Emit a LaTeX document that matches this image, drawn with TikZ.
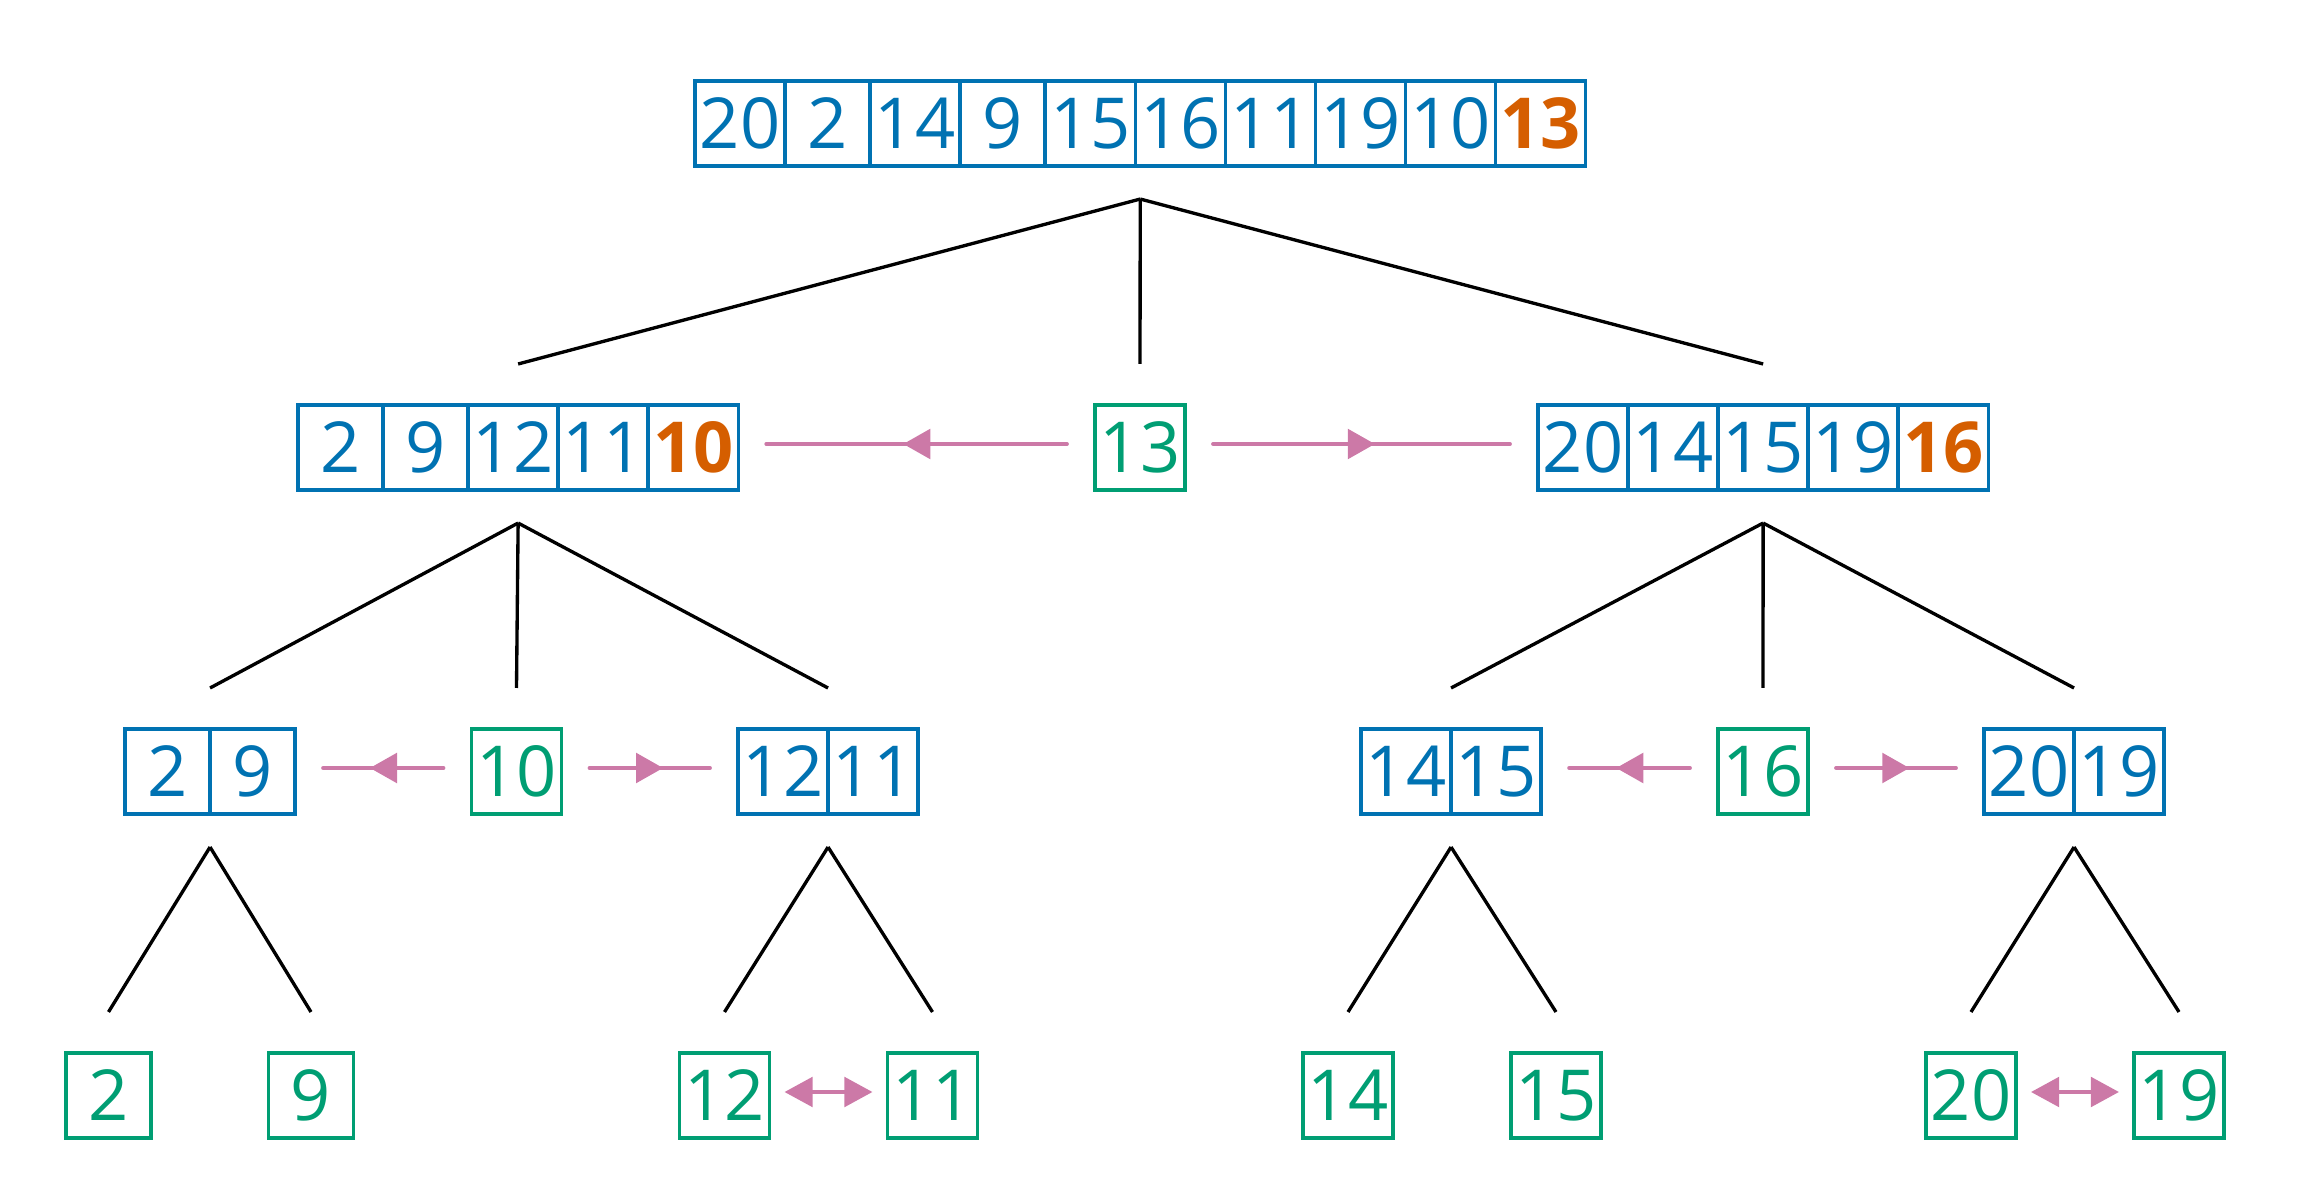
\documentclass[tikz,border=0pt]{standalone}
\usepackage{fontspec}
\setmainfont{Open Sans}
\usetikzlibrary{calc,arrows.meta,decorations.markings}
\definecolor{cblue}{HTML}{0072B2}
\definecolor{corange}{HTML}{D55E00}
\definecolor{cgreen}{HTML}{009E73}
\definecolor{cpink}{HTML}{CC79A7}
% top-centre entry point and bottom-centre exit point of a row of cells
\newcommand\groupends[3]{%
  \coordinate (#1-in)  at ($(#2.north west)!0.5!(#3.north east)+(0,-41)$);
  \coordinate (#1-out) at ($(#2.south west)!0.5!(#3.south east)+(0,33)$);}
\begin{document}
\begin{tikzpicture}[x=0.01cm,y=-0.01cm,
  cell/.style={draw=cblue, text=cblue, line width=1pt, inner sep=0pt,
    outer sep=0pt, minimum height=0.85cm, font=\fontsize{20}{24}\selectfont},
  wide/.style={minimum width=0.9cm},
  narrow/.style={minimum width=0.85cm},
  pivot/.style={text=corange, font=\fontsize{20}{24}\selectfont\bfseries},
  leaf/.style={cell, draw=cgreen, text=cgreen},
  branch/.style={draw=black, line width=0.95pt},
  split/.style={draw=cpink, line width=1.1pt, line cap=round,
    shorten <=0.28cm, shorten >=0.28cm,
    postaction={decorate},
    decoration={markings, mark=at position 0.5 with
      {\arrow[xshift=3.8pt]{Triangle[length=7.7pt,width=8.4pt]}}}},
  swapped/.style={draw=cpink, line width=1.1pt,
    shorten <=0.15cm, shorten >=0.15cm,
    {Triangle[length=8pt,width=8.4pt]}-{Triangle[length=8pt,width=8.4pt]}}
]
\useasboundingbox (0,0) rectangle (2299,1202);

% ---- level 0: whole array
\node[cell,wide,anchor=west]   (t1)  at (695,123.5) {20};
\node[cell,narrow,anchor=west] (t2)  at (t1.east) {2};
\node[cell,wide,anchor=west]   (t3)  at (t2.east) {14};
\node[cell,narrow,anchor=west] (t4)  at (t3.east) {9};
\node[cell,wide,anchor=west]   (t5)  at (t4.east) {15};
\node[cell,wide,anchor=west]   (t6)  at (t5.east) {16};
\node[cell,wide,anchor=west]   (t7)  at (t6.east) {11};
\node[cell,wide,anchor=west]   (t8)  at (t7.east) {19};
\node[cell,wide,anchor=west]   (t9)  at (t8.east) {10};
\node[cell,wide,pivot,anchor=west] (t10) at (t9.east) {13};
\groupends{T}{t1}{t10}

% ---- level 1
\node[cell,narrow,anchor=west] (l1) at (298,447.5) {2};
\node[cell,narrow,anchor=west] (l2) at (l1.east) {9};
\node[cell,wide,anchor=west]   (l3) at (l2.east) {12};
\node[cell,wide,anchor=west]   (l4) at (l3.east) {11};
\node[cell,wide,pivot,anchor=west] (l5) at (l4.east) {10};
\groupends{L}{l1}{l5}

\node[leaf,wide] (p13) at (1140,447.5) {13};
\groupends{P13}{p13}{p13}

\node[cell,wide,anchor=west] (r1) at (1538,447.5) {20};
\node[cell,wide,anchor=west] (r2) at (r1.east) {14};
\node[cell,wide,anchor=west] (r3) at (r2.east) {15};
\node[cell,wide,anchor=west] (r4) at (r3.east) {19};
\node[cell,wide,pivot,anchor=west] (r5) at (r4.east) {16};
\groupends{R}{r1}{r5}

% ---- level 2
\node[cell,narrow,anchor=west] (a1) at (125,771.5) {2};
\node[cell,narrow,anchor=west] (a2) at (a1.east) {9};
\groupends{A}{a1}{a2}
\node[leaf,wide] (p10) at (516.5,771.5) {10};
\groupends{P10}{p10}{p10}
\node[cell,wide,anchor=west] (b1) at (738,771.5) {12};
\node[cell,wide,anchor=west] (b2) at (b1.east) {11};
\groupends{B}{b1}{b2}

\node[cell,wide,anchor=west] (c1) at (1361,771.5) {14};
\node[cell,wide,anchor=west] (c2) at (c1.east) {15};
\groupends{C}{c1}{c2}
\node[leaf,wide] (p16) at (1763,771.5) {16};
\groupends{P16}{p16}{p16}
\node[cell,wide,anchor=west] (d1) at (1984,771.5) {20};
\node[cell,wide,anchor=west] (d2) at (d1.east) {19};
\groupends{D}{d1}{d2}

% ---- level 3: single elements
\node[leaf,narrow] (e2)  at (108.5,1095.5) {2};
\node[leaf,narrow] (e9)  at (311,1095.5)   {9};
\node[leaf,wide]   (e12) at (724.5,1095.5) {12};
\node[leaf,wide]   (e11) at (932.5,1095.5) {11};
\node[leaf,wide]   (e14) at (1348,1095.5)  {14};
\node[leaf,wide]   (e15) at (1556,1095.5)  {15};
\node[leaf,wide]   (e20) at (1971,1095.5)  {20};
\node[leaf,wide]   (e19) at (2179,1095.5)  {19};
\foreach \n in {e2,e9,e12,e11,e14,e15,e20,e19}{\groupends{\n}{\n}{\n}}

% ---- tree branches
\foreach \p/\c in {T/L, T/P13, T/R, L/A, L/P10, L/B, R/C, R/P16, R/D,
                   A/e2, A/e9, B/e12, B/e11, C/e14, C/e15, D/e20, D/e19}
  \draw[branch] (\p-out) -- (\c-in);

% ---- partition arrows from each pivot
\draw[split] ([yshift=1pt]p13.west) -- ([yshift=1pt]l5.east);
\draw[split] ([yshift=1pt]p13.east) -- ([yshift=1pt]r1.west);
\draw[split] ([yshift=1pt]p10.west) -- ([yshift=1pt]a2.east);
\draw[split] ([yshift=1pt]p10.east) -- ([yshift=1pt]b1.west);
\draw[split] ([yshift=1pt]p16.west) -- ([yshift=1pt]c2.east);
\draw[split] ([yshift=1pt]p16.east) -- ([yshift=1pt]d1.west);

% ---- swaps of two-element leaves
\draw[swapped] ([yshift=1pt]e12.east) -- ([yshift=1pt]e11.west);
\draw[swapped] ([yshift=1pt]e20.east) -- ([yshift=1pt]e19.west);
\end{tikzpicture}
\end{document}
